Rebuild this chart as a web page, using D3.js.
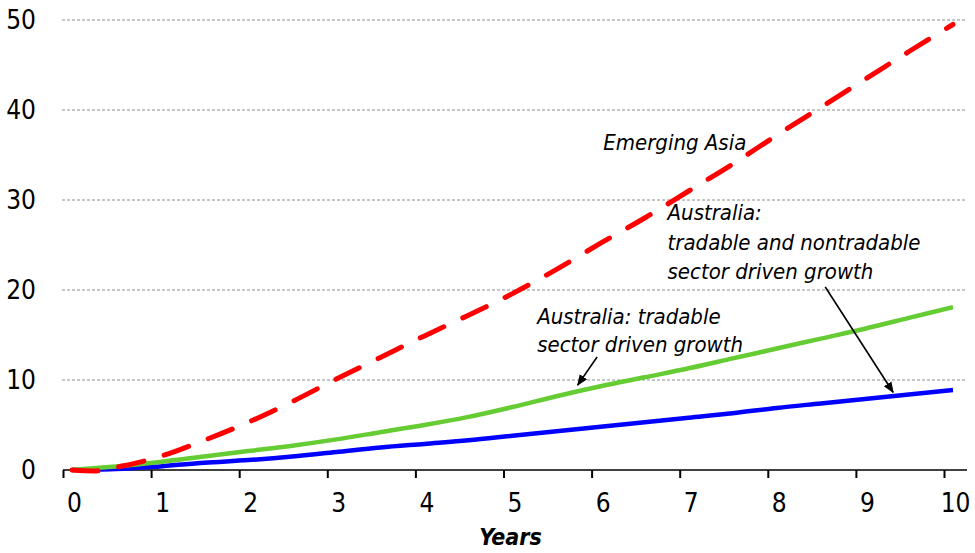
<!DOCTYPE html>
<html>
<head>
<meta charset="utf-8">
<script src="https://cdn.jsdelivr.net/npm/d3@7"></script>
<style>
  html, body { margin: 0; padding: 0; background: #fff; }
  svg { display: block; }
  text { font-family: 'Liberation Sans Narrow', 'DejaVu Sans Condensed', 'Roboto', sans-serif; }
</style>
</head>
<body>
<svg id="chart" width="975" height="553"></svg>
<script>
// ---- data ----
const years = [0, 0.25, 0.5, 1, 1.5, 2, 2.5, 3, 3.5, 4, 4.5, 5, 5.5, 6, 6.5, 7, 7.5, 8, 8.5, 9, 9.5, 10];
const emergingAsia = [0, -0.1, 0.3, 1.5, 3.3, 5.3, 7.6, 10.1, 12.5, 14.9, 17.2, 19.6, 22.3, 25.2, 28.0, 31.0, 34.0, 37.2, 40.3, 43.4, 46.5, 49.5];
const ausTradable = [0, 0.2, 0.4, 0.9, 1.5, 2.1, 2.7, 3.4, 4.2, 5.0, 5.9, 7.0, 8.2, 9.3, 10.3, 11.3, 12.4, 13.5, 14.6, 15.7, 16.9, 18.1];
const ausBoth = [0, 0.05, 0.1, 0.4, 0.8, 1.1, 1.5, 2.0, 2.5, 2.9, 3.3, 3.8, 4.3, 4.8, 5.3, 5.8, 6.3, 6.9, 7.4, 7.9, 8.4, 8.9];
const xTicks = [0, 1, 2, 3, 4, 5, 6, 7, 8, 9, 10];
const yTicks = [0, 10, 20, 30, 40, 50];
const xTitle = "Years";

const svg = d3.select("#chart");
const x = d3.scaleLinear().domain([0, 10]).range([72, 953]);
const y = d3.scaleLinear().domain([0, 50]).range([470, 20]);

// gridlines
svg.append("g").selectAll("line")
  .data(yTicks.filter(d => d > 0))
  .join("line")
  .attr("x1", 62).attr("x2", 965)
  .attr("y1", d => y(d)).attr("y2", d => y(d))
  .attr("stroke", "#8c8c8c").attr("stroke-width", 1)
  .attr("stroke-dasharray", "3,2");

// y labels
svg.append("g").selectAll("text")
  .data(yTicks)
  .join("text")
  .attr("x", 36).attr("y", d => y(d))
  .attr("dy", "0.36em")
  .attr("text-anchor", "end")
  .attr("font-size", 26)
  .attr("fill", "#000")
  .text(d => d);

// x axis: tick marks offset left of labels
const tickAxis = d3.axisBottom(d3.scaleLinear().domain([0, 10]).range([x(0) - 9, x(10) - 9]))
  .tickValues(xTicks).tickSize(8).tickSizeOuter(0).tickFormat("");
const gx = svg.append("g").attr("transform", `translate(0,${y(0)})`).call(tickAxis);
gx.select(".domain").remove();
gx.selectAll(".tick line").attr("stroke", "#000").attr("stroke-width", 2);
svg.append("line")
  .attr("x1", 63).attr("x2", 967)
  .attr("y1", y(0)).attr("y2", y(0))
  .attr("stroke", "#000").attr("stroke-width", 1.5);

const labelAxis = d3.axisBottom(d3.scaleLinear().domain([0, 10]).range([x(0) + 2, x(10) + 2]))
  .tickValues(xTicks).tickSize(0).tickPadding(0);
const gl = svg.append("g").attr("transform", `translate(0,${y(0)})`).call(labelAxis);
gl.select(".domain").remove();
gl.selectAll(".tick text")
  .attr("y", 42).attr("dy", 0)
  .attr("font-size", 26)
  .attr("font-family", "'Liberation Sans Narrow', 'DejaVu Sans Condensed', sans-serif")
  .attr("fill", "#000");

// x title
svg.append("text")
  .attr("x", x(5) - 2).attr("y", 545)
  .attr("text-anchor", "middle")
  .attr("font-size", 23).attr("font-weight", "bold").attr("font-style", "italic")
  .text(xTitle);

// lines
const line = d3.line().x((d, i) => x(years[i])).y(d => y(d)).curve(d3.curveMonotoneX);

svg.append("path").datum(ausBoth)
  .attr("d", line).attr("fill", "none")
  .attr("stroke", "#0000ff").attr("stroke-width", 4.5).attr("stroke-linejoin", "round");

svg.append("path").datum(ausTradable)
  .attr("d", line).attr("fill", "none")
  .attr("stroke", "#66cc33").attr("stroke-width", 4.5).attr("stroke-linejoin", "round");

svg.append("path").datum(emergingAsia)
  .attr("d", line).attr("fill", "none")
  .attr("stroke", "#ff0000").attr("stroke-width", 5)
  .attr("stroke-linecap", "round")
  .attr("stroke-dasharray", "26,21");

// arrow marker
svg.append("defs").append("marker")
  .attr("id", "arrow").attr("viewBox", "0 0 10 10")
  .attr("refX", 9).attr("refY", 5)
  .attr("markerWidth", 7).attr("markerHeight", 7)
  .attr("orient", "auto-start-reverse")
  .append("path").attr("d", "M0,1 L10,5 L0,9 Z").attr("fill", "#000");

// annotations
function annot(lines, xs, ys, lh) {
  const t = svg.append("text")
    .attr("font-size", 22).attr("font-style", "italic")
    .attr("fill", "#000");
  lines.forEach((s, i) => {
    t.append("tspan").attr("x", xs).attr("y", ys + i * lh).text(s);
  });
}
annot(["Emerging Asia"], x(6.03), 150, 0);
annot(["Australia: tradable", "sector driven growth"], x(5.28), 324, 28);
annot(["Australia:", "tradable and nontradable", "sector driven growth"], x(6.76), 220, 29.5);

svg.append("line")
  .attr("x1", x(5.96)).attr("y1", 357)
  .attr("x2", x(5.74)).attr("y2", y(9.1) - 3)
  .attr("stroke", "#000").attr("stroke-width", 1.6)
  .attr("marker-end", "url(#arrow)");

svg.append("line")
  .attr("x1", x(8.55)).attr("y1", 287)
  .attr("x2", x(9.32)).attr("y2", y(8.3) - 3)
  .attr("stroke", "#000").attr("stroke-width", 1.6)
  .attr("marker-end", "url(#arrow)");
</script>
</body>
</html>
